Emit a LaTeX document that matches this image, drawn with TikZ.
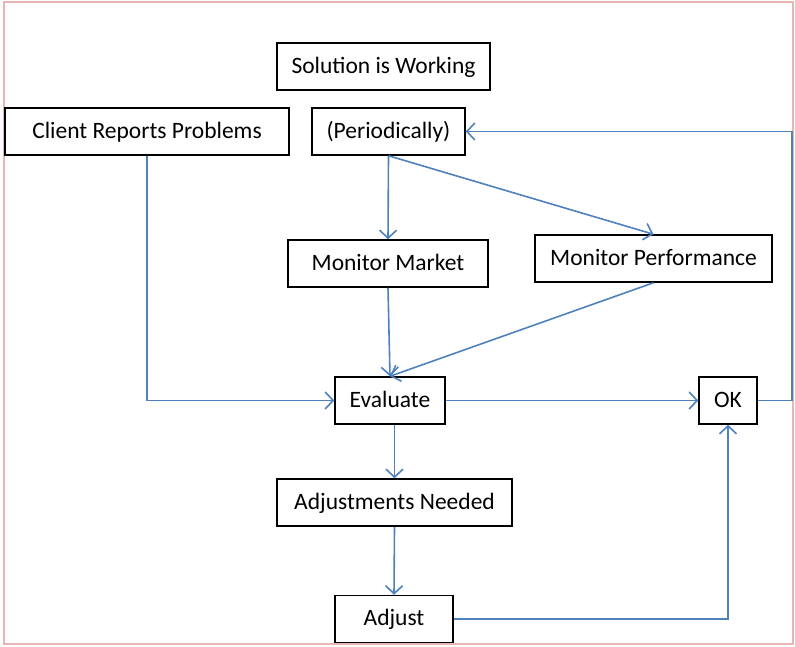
\documentclass[tikz,border=0pt]{standalone}
\usepackage{fontspec}
\setmainfont{Carlito}
\usepackage{tikz}
\usetikzlibrary{arrows.meta}
\definecolor{linkblue}{RGB}{79,129,189}
\definecolor{framepink}{RGB}{232,180,180}
\tikzstyle{stepbox} = [rectangle, minimum height=47pt, text centered, text height=16pt, text depth=3pt, draw=black, line width=1.5pt, font=\fontsize{23.5}{27}\selectfont]
\tikzstyle{arrow} = [draw=linkblue, line width=1.6pt, -{Straight Barb[length=8pt,width=17pt]}]

\begin{document}
\begin{tikzpicture}[x=1pt, y=1pt, node distance=100pt]
\useasboundingbox (0,0) rectangle (795,-646);
\draw [framepink, line width=1.2pt] (4,-2) rectangle (793,-644);
\node (sol) [stepbox, minimum width=213pt] at (383.5,-66.5) {Solution is Working};
\node (period) [stepbox, minimum width=153pt, below of=sol, node distance=65pt, xshift=5pt] {(Periodically)};
\node (client) [stepbox, minimum width=284pt, left of=period, node distance=241.5pt] {Client Reports Problems};
\node (market) [stepbox, minimum width=200pt, below of=period, node distance=132pt, xshift=-0.5pt] {Monitor Market};
\node (perf) [stepbox, minimum width=237pt, right of=market, node distance=265.5pt, yshift=5pt] {Monitor Performance};
\node (eval) [stepbox, minimum width=110pt, below of=market, node distance=137pt, xshift=2pt] {Evaluate};
\node (ok) [stepbox, minimum width=58pt, right of=eval, node distance=338pt] {OK};
\node (need) [stepbox, minimum width=235pt, below of=eval, node distance=102pt, xshift=4.5pt] {Adjustments Needed};
\node (adjust) [stepbox, minimum width=118pt, below of=need, node distance=116.5pt, xshift=-0.5pt] {Adjust};
\coordinate (loop) at ([xshift=34pt]ok.east);
\draw [arrow] (client.south) |- (eval.west);
\draw [arrow] (period.south) -- (market.north);
\draw [arrow] (period.south) -- (perf.north);
\draw [arrow] (market.south) -- (eval.north);
\draw [arrow] (perf.south) -- (eval.north);
\draw [arrow] (eval.east) -- (ok.west);
\draw [arrow] (ok.east) -- (loop) |- (period.east);
\draw [arrow] (eval.south -| need.north) -- (need.north);
\draw [arrow] (need.south) -- (adjust.north);
\draw [arrow] (adjust.east) -| (ok.south);
\end{tikzpicture}
\end{document}
